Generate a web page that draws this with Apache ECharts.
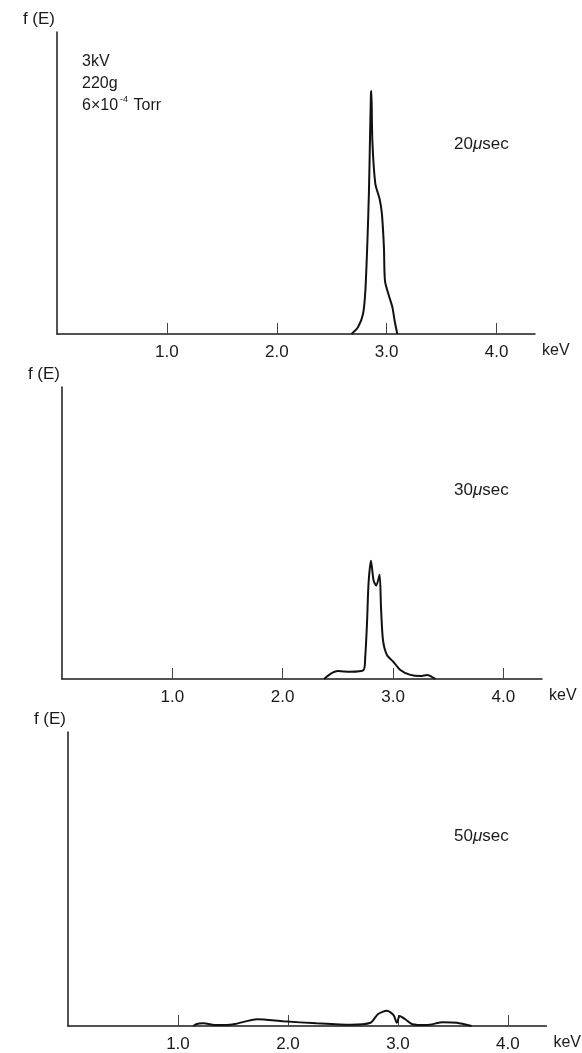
<!DOCTYPE html>
<html>
<head>
<meta charset="utf-8">
<script src="https://cdn.jsdelivr.net/npm/echarts@6/dist/echarts.min.js"></script>
<style>
  html, body { margin: 0; padding: 0; background: #fff; }
  #chart { width: 582px; height: 1053px; }
</style>
</head>
<body>
<div id="chart"></div>
<script>
// energy (keV) and f(E) (arbitrary units, axis top = 100)
var energy20 = [2.68, 2.74, 2.785, 2.806, 2.825, 2.839, 2.848, 2.857, 2.861, 2.870, 2.897, 2.936, 2.957, 2.975, 2.985, 3.021, 3.052, 3.073, 3.097];
var fe20     = [0, 2.3, 6.6, 14.2, 30.8, 47.4, 63.9, 79.5, 80.5, 63.9, 49.7, 44.7, 39.7, 28.8, 17.5, 12.6, 8.9, 4.3, 0];

var energy30 = [2.375, 2.43, 2.50, 2.61, 2.733, 2.748, 2.764, 2.778, 2.80, 2.824, 2.848, 2.878, 2.891, 2.909, 2.945, 3.005, 3.066, 3.157, 3.25, 3.309, 3.385];
var fe30     = [0, 1.7, 2.7, 2.5, 3.1, 7.5, 19, 32.7, 40.5, 33.7, 32, 35.7, 24.5, 13.3, 8.2, 5.8, 3.1, 1.4, 1.0, 1.4, 0];

var energy50 = [1.14, 1.17, 1.23, 1.35, 1.505, 1.72, 1.96, 2.26, 2.57, 2.75, 2.82, 2.90, 2.96, 2.99, 3.015, 3.066, 3.13, 3.26, 3.41, 3.535, 3.67];
var fe50     = [0, 0.7, 0.9, 0.3, 0.6, 2.3, 1.6, 0.9, 0.4, 1.1, 4.1, 5.2, 3.7, 1.1, 3.4, 2.3, 0.6, 0.3, 1.3, 1.1, 0];

var tickValues = [1, 2, 3, 4];
var timeLabels = ['20', '30', '50'];

var FONT = 'Liberation Sans';
var INK = '#1a1a1a';

function pairs(xs, ys) {
    return xs.map(function (x, i) { return [x, ys[i]]; });
}

var grids = [
    { left: 57, top: 32, width: 478, height: 302 },
    { left: 62, top: 387, width: 480, height: 292 },
    { left: 68, top: 732, width: 480, height: 294 }
];

var xAxes = [], yAxes = [], series = [];
var curves = [[energy20, fe20], [energy30, fe30], [energy50, fe50]];

grids.forEach(function (g, i) {
    xAxes.push({
        type: 'value',
        gridIndex: i,
        min: 0,
        max: 4.35,
        name: 'keV',
        nameLocation: 'end',
        nameGap: 7,
        nameTextStyle: { fontFamily: FONT, fontSize: 16, color: INK, verticalAlign: 'top', padding: [9, 0, 0, 0] },
        axisLine: { lineStyle: { color: INK, width: 1.5 } },
        axisTick: { inside: true, length: 11, customValues: tickValues, lineStyle: { color: '#444', width: 1 } },
        axisLabel: {
            customValues: tickValues,
            margin: 10,
            fontFamily: FONT,
            fontSize: 17,
            color: INK,
            formatter: function (v) { return v.toFixed(1); }
        },
        splitLine: { show: false }
    });
    yAxes.push({
        type: 'value',
        gridIndex: i,
        min: 0,
        max: 100,
        name: 'f (E)',
        nameLocation: 'end',
        nameGap: 4,
        nameTextStyle: { fontFamily: FONT, fontSize: 17, color: INK, align: 'right', padding: [0, 2, 0, 0] },
        axisLine: { show: true, lineStyle: { color: INK, width: 1.5 } },
        axisTick: { show: false },
        axisLabel: { show: false },
        splitLine: { show: false }
    });
    series.push({
        type: 'line',
        xAxisIndex: i,
        yAxisIndex: i,
        data: pairs(curves[i][0], curves[i][1]),
        smooth: 0.25,
        showSymbol: false,
        lineStyle: { color: '#111', width: 2 }
    });
});

var timeText = timeLabels.map(function (t, i) {
    return {
        type: 'text',
        left: 454,
        top: 136 + i * 346,
        style: {
            text: t + '{mu|μ}sec',
            fontFamily: FONT,
            fontSize: 17,
            fill: INK,
            rich: { mu: { fontFamily: FONT, fontSize: 17, fontStyle: 'italic', fill: INK } }
        }
    };
});

var option = {
    animation: false,
    backgroundColor: '#fff',
    grid: grids,
    xAxis: xAxes,
    yAxis: yAxes,
    series: series,
    graphic: [
        {
            type: 'text',
            left: 82,
            top: 51,
            style: {
                text: '3kV\n220g\n6×10{sup|-4} Torr',
                fontFamily: FONT,
                fontSize: 16,
                lineHeight: 22,
                fill: INK,
                rich: {
                    sup: { fontFamily: FONT, fontSize: 9, verticalAlign: 'top', fill: INK, padding: [0, 1, 0, 2] }
                }
            }
        }
    ].concat(timeText)
};

var myChart = echarts.init(document.getElementById('chart'));
myChart.setOption(option, true);
</script>
</body>
</html>
